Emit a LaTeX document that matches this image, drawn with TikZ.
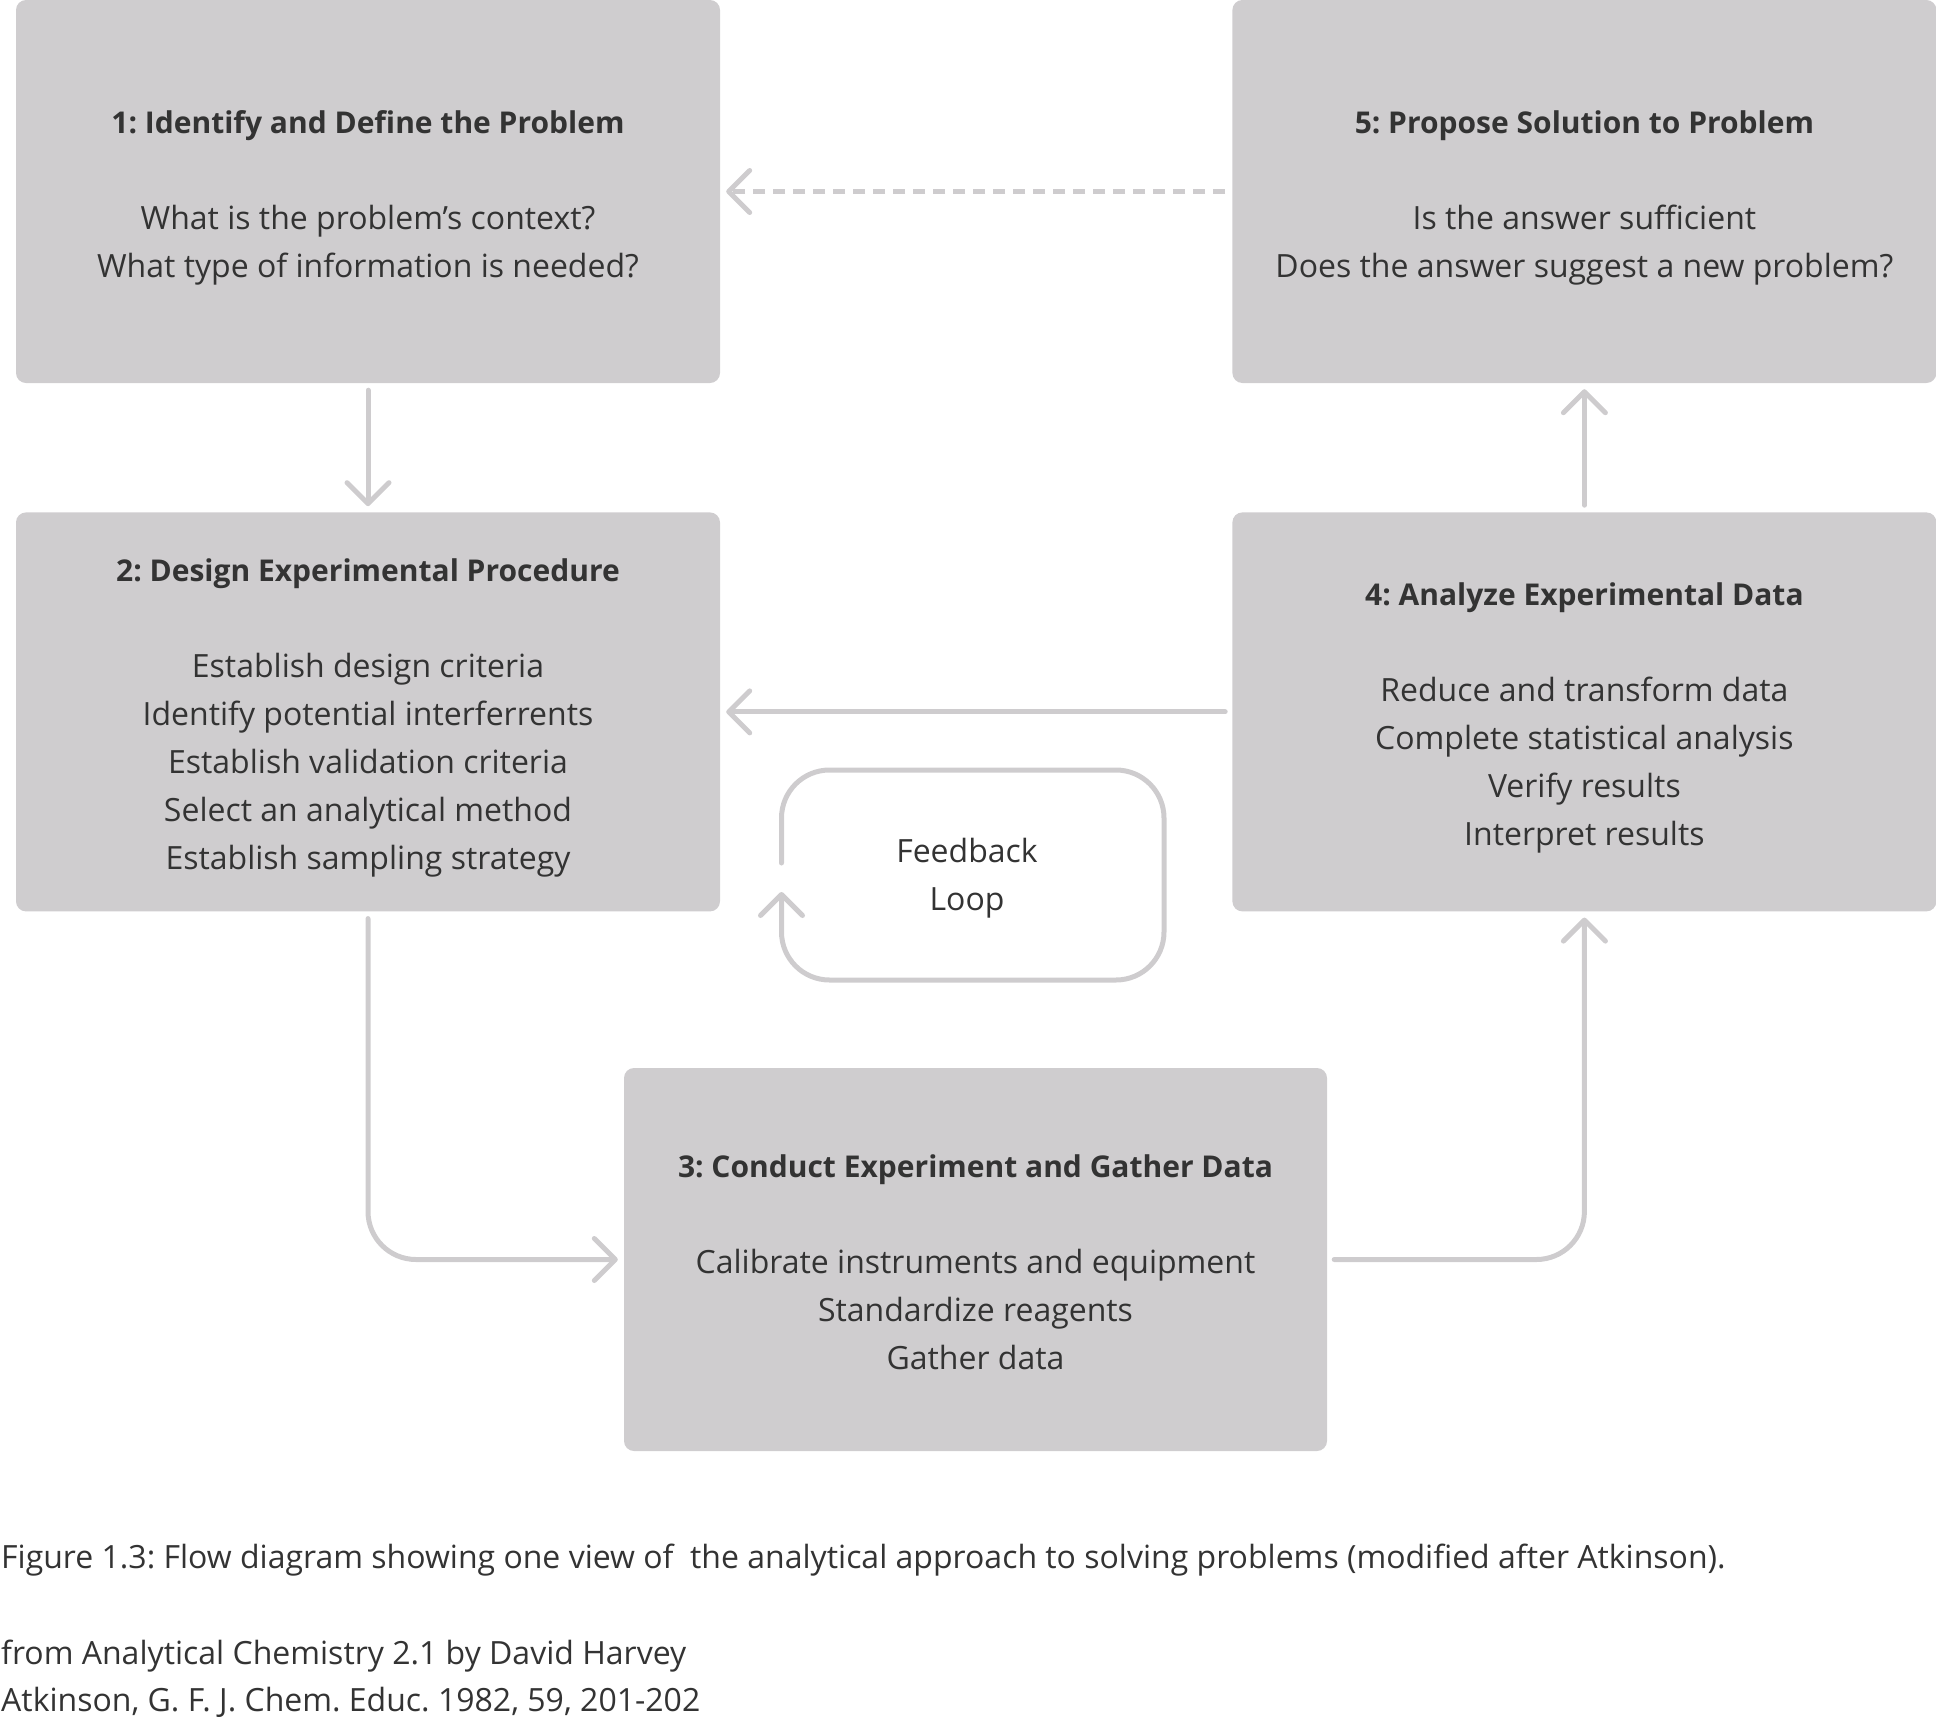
\documentclass[tikz,border=0pt]{standalone}
\usepackage{fontspec}
\setmainfont{Open Sans}
\usetikzlibrary{positioning, arrows.meta}
\definecolor{mbox}{RGB}{207,205,207}
\definecolor{mline}{RGB}{206,204,206}
\definecolor{mtext}{RGB}{51,51,51}
% the strut evens out the first line against the last
\newcommand{\stagetitle}[1]{{\fontsize{30}{48}\selectfont\bfseries\rule{0pt}{40pt}#1}}

\begin{document}
\frenchspacing
\begin{tikzpicture}[x=1pt, y=-1pt,
  stage/.style={fill=mbox, rounded corners=10pt, minimum width=704pt,
    minimum height=383pt, inner sep=0pt, align=center, text=mtext,
    font=\fontsize{32}{48}\selectfont,
    execute at end node={\rule[-12pt]{0pt}{12pt}}},
  label/.style={text=mtext, align=left, inner sep=0pt,
    font=\fontsize{32}{48}\selectfont},
  flow/.style={draw=mline, line width=5pt, line cap=round,
    -{Straight Barb[length=21pt, width=42pt, round]},
    shorten <=7pt, shorten >=6pt},
  ]
  \useasboundingbox (0,0) rectangle (1936,1719);

  % the five stages
  \node[stage] (identify) at (368,191.5)
    {\stagetitle{1: Identify and Define the Problem}\\[48pt]
     What is the problem's context?\\
     What type of information is needed?};
  \node[stage, right=512pt of identify] (propose)
    {\stagetitle{5: Propose Solution to Problem}\\[48pt]
     Is the answer sufficient\\
     Does the answer suggest a new problem?};
  \node[stage, minimum height=399pt, below=129pt of identify] (design)
    {\stagetitle{2: Design Experimental Procedure}\\[48pt]
     Establish design criteria\\
     Identify potential interferrents\\
     Establish validation criteria\\
     Select an analytical method\\
     Establish sampling strategy};
  \node[stage, minimum height=399pt, below=129pt of propose] (analyze)
    {\stagetitle{4: Analyze Experimental Data}\\[48pt]
     Reduce and transform data\\
     Complete statistical analysis\\
     Verify results\\
     Interpret results};
  \node[stage, minimum width=703pt] (conduct) at (975.5,1259.5)
    {\stagetitle{3: Conduct Experiment and Gather Data}\\[48pt]
     Calibrate instruments and equipment\\
     Standardize reagents\\
     Gather data};

  % connectors
  \draw[flow] (identify) -- (design);
  \draw[flow, rounded corners=48pt] (design) |- (conduct);
  \draw[flow, rounded corners=48pt] (conduct) -| (analyze);
  \draw[flow] (analyze) -- (propose);
  \draw[flow] (analyze) -- (design);
  \draw[flow, dash pattern=on 12pt off 8pt, line cap=butt] (propose) -- (identify);

  % feedback loop
  \node[label, align=center] (loop) at (967,878) {Feedback\\Loop};
  \coordinate (loopend) at (781.5,863);
  \coordinate (looptip) at (781.5,892);
  \draw[flow, shorten <=0pt, shorten >=0pt, rounded corners=48pt]
    (loopend) -- (781.5,770) -- (1164,770) -- (1164,980) -- (781.5,980) -- (looptip);

  % caption
  \node[label, anchor=base west] (figcap) at (1,1568)
    {Figure 1.3: Flow diagram showing one view of\ \ the analytical approach to solving problems (modified after Atkinson).};
  \node[label, anchor=base west] (source) at (1,1664)
    {from Analytical Chemistry 2.1 by David Harvey};
  \node[label, anchor=base west] (cite) at (1,1711)
    {Atkinson, G. F. J. Chem. Educ. 1982, 59, 201-202};
\end{tikzpicture}
\end{document}
